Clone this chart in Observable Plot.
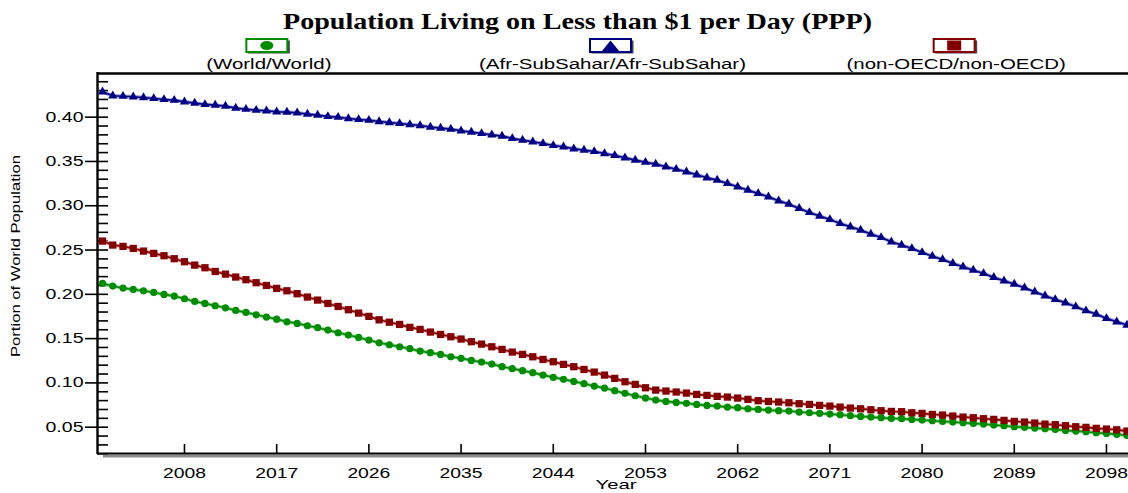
<!DOCTYPE html>
<html>
<head>
<meta charset="utf-8">
<script src="https://cdn.jsdelivr.net/npm/d3@7"></script>
<script src="https://cdn.jsdelivr.net/npm/@observablehq/plot@0.6"></script>
<style>
  html, body { margin: 0; padding: 0; background: #fff; }
  #chart svg { display: block; }
</style>
</head>
<body>
<div id="chart"></div>
<script>
// ---------------- data ----------------
const titleText = "Population Living on Less than $1 per Day (PPP)";
const xLabel = "Year";
const yLabel = "Portion of World Population";

const startYear = 2000;
const endYear = 2100;
const years = d3.range(startYear, endYear + 1);

const seriesNames = ["(World/World)", "(Afr-SubSahar/Afr-SubSahar)", "(non-OECD/non-OECD)"];
const seriesColors = ["#008c00", "#000084", "#840000"];
const seriesHalo = ["#8fd08f", "#9a9ad8", "#d89a9a"];
const seriesSymbols = ["circle", "triangle", "square"];

const worldValues = [
  0.2123, 0.2093, 0.2070, 0.2055, 0.2040, 0.2021, 0.1999, 0.1980, 0.1950, 0.1920,
  0.1897, 0.1871, 0.1848, 0.1818, 0.1796, 0.1769, 0.1743, 0.1720, 0.1690, 0.1672,
  0.1645, 0.1623, 0.1596, 0.1566, 0.1540, 0.1513, 0.1483, 0.1453, 0.1431, 0.1408,
  0.1386, 0.1359, 0.1341, 0.1322,
  0.1295, 0.1277, 0.1254, 0.1236, 0.1213, 0.1183, 0.1161, 0.1138, 0.1116, 0.1088,
  0.1063, 0.1040, 0.1017, 0.0991, 0.0964, 0.0942, 0.0912, 0.0882, 0.0855, 0.0829,
  0.0806, 0.0791, 0.0780, 0.0769, 0.0757, 0.0746, 0.0738, 0.0727, 0.0720, 0.0708,
  0.0701, 0.0693, 0.0686,
  0.0682, 0.0671, 0.0663, 0.0656, 0.0648, 0.0641, 0.0630, 0.0622, 0.0614, 0.0607,
  0.0599, 0.0596, 0.0588, 0.0580, 0.0573, 0.0565, 0.0558, 0.0550, 0.0543, 0.0535,
  0.0524, 0.0517, 0.0505, 0.0498, 0.0490, 0.0483, 0.0475, 0.0464, 0.0456, 0.0449,
  0.0437, 0.0430, 0.0419, 0.0407
];

const afrValues = [
  0.4286, 0.4241, 0.4237, 0.4230, 0.4222, 0.4211, 0.4200, 0.4192, 0.4173, 0.4159,
  0.4144, 0.4136, 0.4125, 0.4102, 0.4090, 0.4079, 0.4072, 0.4061, 0.4057, 0.4049,
  0.4034, 0.4023, 0.4008, 0.4000, 0.3985, 0.3974, 0.3966, 0.3951, 0.3940, 0.3929,
  0.3917, 0.3906, 0.3889, 0.3876,
  0.3865, 0.3846, 0.3831, 0.3816, 0.3800, 0.3786, 0.3760, 0.3741, 0.3722, 0.3703,
  0.3681, 0.3666, 0.3643, 0.3628, 0.3613, 0.3590, 0.3568, 0.3541, 0.3515, 0.3492,
  0.3470, 0.3440, 0.3413, 0.3383, 0.3350, 0.3316, 0.3289, 0.3252, 0.3214, 0.3176,
  0.3139, 0.3101, 0.3056,
  0.3018, 0.2970, 0.2924, 0.2883, 0.2845, 0.2800, 0.2763, 0.2725, 0.2680, 0.2642,
  0.2593, 0.2556, 0.2518, 0.2473, 0.2431, 0.2394, 0.2349, 0.2311, 0.2273, 0.2236,
  0.2191, 0.2153, 0.2115, 0.2074, 0.2029, 0.1984, 0.1942, 0.1905, 0.1860, 0.1815,
  0.1777, 0.1728, 0.1690, 0.1653
];

const nonOecdValues = [
  0.2601, 0.2556, 0.2541, 0.2518, 0.2488, 0.2462, 0.2436, 0.2402, 0.2368, 0.2330,
  0.2300, 0.2258, 0.2228, 0.2195, 0.2165, 0.2131, 0.2100, 0.2067, 0.2040, 0.2007,
  0.1969, 0.1935, 0.1897, 0.1863, 0.1826, 0.1788, 0.1751, 0.1712, 0.1685, 0.1660,
  0.1627, 0.1604, 0.1574, 0.1547,
  0.1521, 0.1495, 0.1465, 0.1438, 0.1408, 0.1378, 0.1348, 0.1322, 0.1295, 0.1265,
  0.1239, 0.1209, 0.1183, 0.1152, 0.1122, 0.1088, 0.1051, 0.1013, 0.0983, 0.0945,
  0.0919, 0.0908, 0.0897, 0.0885, 0.0870, 0.0859, 0.0848, 0.0840, 0.0829, 0.0814,
  0.0799, 0.0791, 0.0784,
  0.0776, 0.0765, 0.0757, 0.0746, 0.0738, 0.0727, 0.0716, 0.0708, 0.0697, 0.0686,
  0.0678, 0.0675, 0.0663, 0.0656, 0.0644, 0.0637, 0.0626, 0.0614, 0.0607, 0.0596,
  0.0588, 0.0577, 0.0565, 0.0558, 0.0547, 0.0535, 0.0528, 0.0517, 0.0505, 0.0498,
  0.0487, 0.0479, 0.0471, 0.0456
];

const xTicks = [2008, 2017, 2026, 2035, 2044, 2053, 2062, 2071, 2080, 2089, 2098];
const yTicks = [0.05, 0.10, 0.15, 0.20, 0.25, 0.30, 0.35, 0.40];
const yTickLabels = ["0.05", "0.10", "0.15", "0.20", "0.25", "0.30", "0.35", "0.40"];
const yMinorTicks = [0.02, 0.03, 0.04, 0.06, 0.07, 0.08, 0.09, 0.11, 0.12, 0.13, 0.14,
  0.16, 0.17, 0.18, 0.19, 0.21, 0.22, 0.23, 0.24, 0.26, 0.27, 0.28, 0.29,
  0.31, 0.32, 0.33, 0.34, 0.36, 0.37, 0.38, 0.39, 0.41, 0.42, 0.43, 0.44];

// ---------------- layout ----------------
const W = 1128, H = 493;
const mL = 97, mT = 73, mR = 0, mB = 40;
const fw = W - mL - mR, fh = H - mT - mB;
const xDomain = [1999.51, 2100.15];
const yDomain = [0.0203, 0.4493];

const seriesValues = [worldValues, afrValues, nonOecdValues];
const rows = seriesNames.flatMap((name, i) =>
  years.map((yr, j) => ({series: name, year: yr, value: seriesValues[i][j]})));

const symbolR = {"circle": 3.6, "triangle": 3.4, "square": 4.1};

const marks = [
  // minor y ticks (inside)
  Plot.ruleY(yMinorTicks, {y: d => d, insetRight: fw - 11, stroke: "#000", strokeWidth: 1.6}),
  // major y ticks (cross the axis)
  Plot.ruleY(yTicks, {y: d => d, insetLeft: -12, insetRight: fw - 11, stroke: "#000", strokeWidth: 1.6}),
  // x ticks (inside, upward)
  Plot.ruleX(xTicks, {x: d => d, insetTop: fh - 9, stroke: "#000", strokeWidth: 1.6}),
  // tick labels
  Plot.text(xTicks, {x: d => d, text: d => String(d), frameAnchor: "bottom", lineAnchor: "bottom", dy: 24, fontSize: 15.5, fill: "#000"}),
  Plot.text(yTicks, {y: d => d, text: (d, i) => yTickLabels[i], frameAnchor: "left", textAnchor: "end", dx: -14, fontSize: 14, fill: "#000"})
];
seriesNames.forEach((name, i) => {
  const sub = rows.filter(d => d.series === name);
  marks.push(Plot.line(sub, {x: "year", y: "value", stroke: seriesHalo[i], strokeWidth: 3.5, clip: true}));
  marks.push(Plot.line(sub, {x: "year", y: "value", stroke: "series", strokeWidth: 1.6, clip: true}));
  marks.push(Plot.dot(sub, {
    x: "year", y: "value", symbol: "series", fill: "series", stroke: "none",
    r: symbolR[seriesSymbols[i]], clip: true
  }));
});
// frame: gray shadow under bottom axis, then black axis lines
marks.push(Plot.ruleY([yDomain[0]], {dy: 2.5, insetLeft: 6, stroke: "#8a8a8a", strokeWidth: 3}));
marks.push(Plot.ruleY([yDomain[0]], {stroke: "#000", strokeWidth: 2.2}));
marks.push(Plot.ruleY([yDomain[1]], {stroke: "#000", strokeWidth: 2.4}));
marks.push(Plot.ruleX([xDomain[0]], {stroke: "#000", strokeWidth: 2.4, insetTop: -1, insetBottom: -1}));

const plot = Plot.plot({
  width: W, height: H,
  marginLeft: mL, marginTop: mT, marginRight: mR, marginBottom: mB,
  style: {fontFamily: "'Liberation Sans', Arial, sans-serif", background: "#fff", color: "#000"},
  x: {domain: xDomain, axis: null},
  y: {domain: yDomain, axis: null},
  color: {domain: seriesNames, range: seriesColors},
  symbol: {domain: seriesNames, range: seriesSymbols},
  marks
});

document.getElementById("chart").appendChild(plot);

// stretch tick label glyphs like the original
d3.select(plot).selectAll("text").each(function() {
  const t = this.textContent;
  if (/^\d{4}$/.test(t)) { this.setAttribute("textLength", 43); this.setAttribute("lengthAdjust", "spacingAndGlyphs"); }
  else if (/^0\.\d\d$/.test(t)) { this.setAttribute("textLength", 38); this.setAttribute("lengthAdjust", "spacingAndGlyphs"); }
});

const svg = d3.select(plot);

// title
svg.append("text")
  .attr("x", 283).attr("y", 28.5)
  .attr("text-anchor", "start")
  .attr("font-family", "'Liberation Serif', 'Times New Roman', serif")
  .attr("font-weight", "bold")
  .attr("font-size", 23.5)
  .attr("textLength", 589).attr("lengthAdjust", "spacingAndGlyphs")
  .attr("fill", "#000")
  .text(titleText);

// legend
seriesNames.forEach((name, i) => {
  const cx = mL + fw * (2 * i + 1) / 6 - 1;
  const g = svg.append("g").attr("transform", `translate(${cx},0)`);
  g.append("rect").attr("x", -20).attr("y", 40.5).attr("width", 42).attr("height", 13).attr("fill", "#444");
  g.append("rect").attr("x", -21.5).attr("y", 39).attr("width", 41).attr("height", 13)
    .attr("fill", "#fff").attr("stroke", seriesColors[i]).attr("stroke-width", 2);
  if (seriesSymbols[i] === "circle") {
    g.append("ellipse").attr("cx", -1).attr("cy", 45.5).attr("rx", 6.5).attr("ry", 4.5).attr("fill", seriesColors[i]);
  } else if (seriesSymbols[i] === "triangle") {
    g.append("path").attr("d", "M-10,51.5L8,51.5L-1,40.5Z").attr("fill", seriesColors[i]);
  } else {
    g.append("rect").attr("x", -8).attr("y", 40.5).attr("width", 14).attr("height", 10).attr("fill", seriesColors[i]);
  }
  const label = g.append("text")
    .attr("x", 1).attr("y", 68.5)
    .attr("text-anchor", "middle")
    .attr("font-family", "'Liberation Sans', Arial, sans-serif")
    .attr("font-size", 14)
    .attr("fill", "#000")
    .text(name);
  const natural = label.node().getComputedTextLength();
  label.attr("textLength", natural * 1.46).attr("lengthAdjust", "spacingAndGlyphs");
});

// axis titles
svg.append("text")
  .attr("transform", "translate(20,256) rotate(-90)")
  .attr("text-anchor", "middle")
  .attr("font-family", "'Liberation Sans', Arial, sans-serif")
  .attr("font-size", 13)
  .attr("textLength", 202).attr("lengthAdjust", "spacingAndGlyphs")
  .attr("fill", "#000")
  .text(yLabel);

svg.append("text")
  .attr("x", 616).attr("y", 489)
  .attr("text-anchor", "middle")
  .attr("font-family", "'Liberation Sans', Arial, sans-serif")
  .attr("font-size", 13.5)
  .attr("textLength", 41).attr("lengthAdjust", "spacingAndGlyphs")
  .attr("fill", "#000")
  .text(xLabel);
</script>
</body>
</html>
